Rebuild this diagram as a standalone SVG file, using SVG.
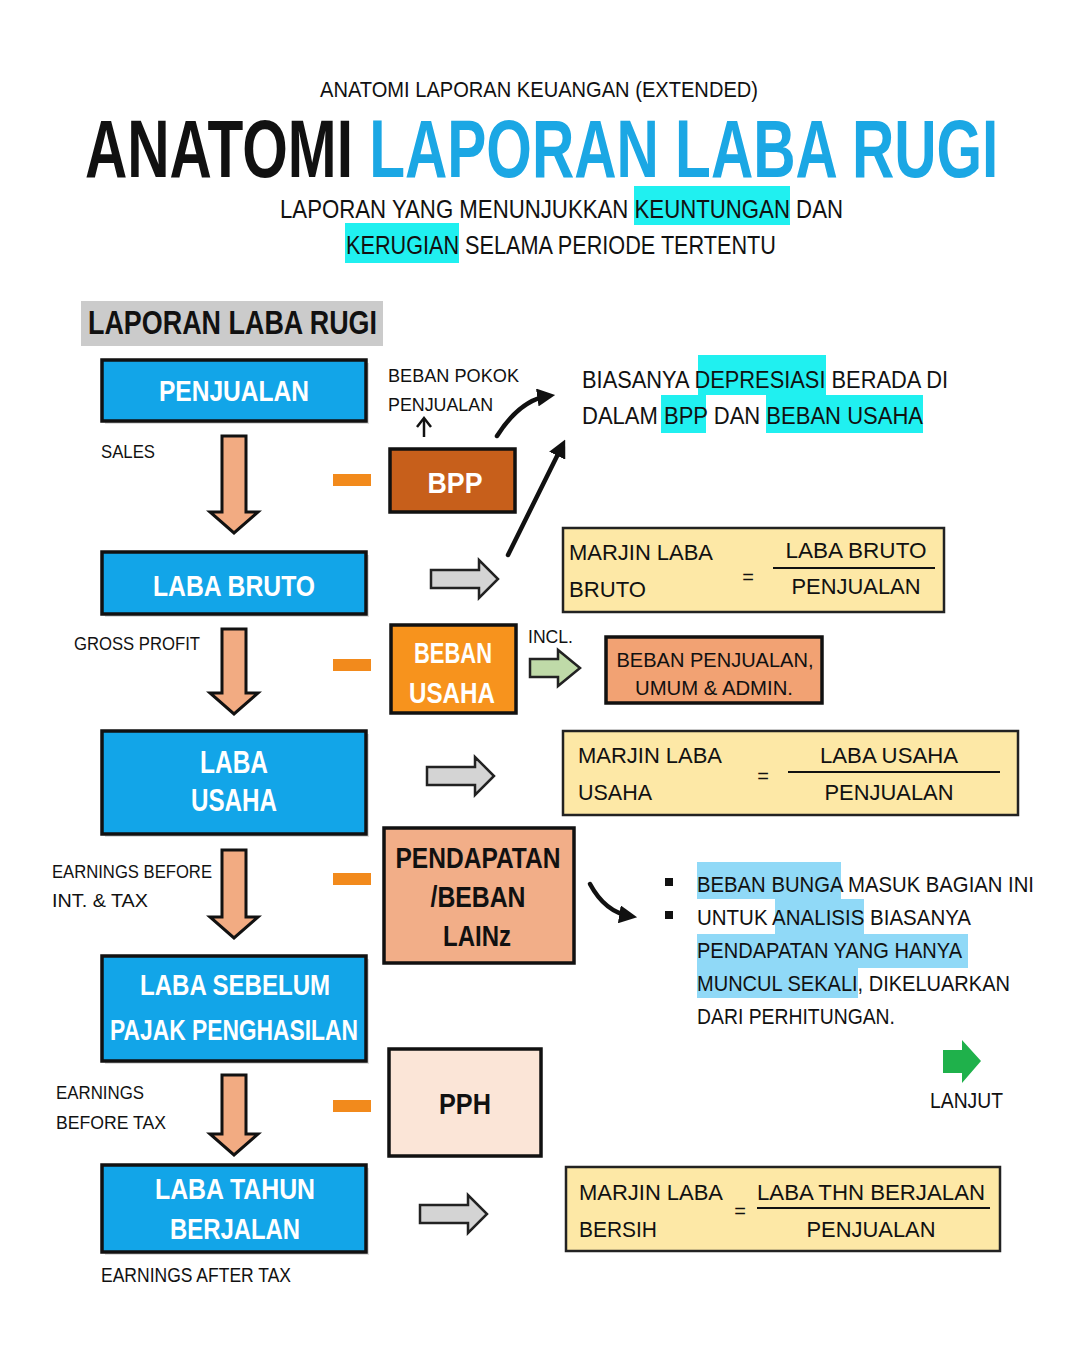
<svg xmlns="http://www.w3.org/2000/svg" width="1080" height="1349" viewBox="0 0 1080 1349">
<style>
text{font-family:"Liberation Sans","Noto Sans",Arial,sans-serif;fill:#111}
.b{font-weight:bold}
.w{fill:#fff;font-weight:bold}
.c{text-anchor:middle}
.blue{fill:#12a5e8;stroke:#111;stroke-width:3.5}
.yel{fill:#fde8a6;stroke:#222;stroke-width:2.5}
.down{fill:#f2ab82;stroke:#111;stroke-width:3;stroke-linejoin:miter}
.grey{fill:#d4d4d4;stroke:#222;stroke-width:2.5}
.minus{fill:#f28a1c}
.hl{fill:#20f0f0}
.hl2{fill:#90d9f7}
.shadow{fill:#bbb;opacity:.5}
.ln{stroke:#111;stroke-width:2}
.ar{fill:none;stroke:#111;stroke-width:4.5;stroke-linecap:round}
</style>
<defs>
<marker id="ah" viewBox="0 0 10 10" refX="6" refY="5" markerWidth="4" markerHeight="4" orient="auto"><path d="M0,0 L10,5 L0,10 z" fill="#111"/></marker>
<path id="rarr" d="M0,-9 H48 V-19 L67,0 L48,19 V9 H0 Z"/>
</defs>
<rect width="1080" height="1349" fill="#fff"/>

<g id="title">
<text x="320" y="97" font-size="22" textLength="438" lengthAdjust="spacingAndGlyphs">ANATOMI LAPORAN KEUANGAN (EXTENDED)</text>
<text transform="translate(85,177) scale(1,1.4)" x="0" y="0" font-size="58.6" class="b">ANATOMI <tspan style="fill:#1ba7e4">LAPORAN LABA RUGI</tspan></text>
<rect class="hl" x="634" y="186" width="156" height="39"/>
<rect class="hl" x="345" y="223" width="114" height="40"/>
<text x="280" y="218" font-size="25" textLength="563" lengthAdjust="spacingAndGlyphs">LAPORAN YANG MENUNJUKKAN KEUNTUNGAN DAN</text>
<text x="346" y="254" font-size="25" textLength="430" lengthAdjust="spacingAndGlyphs">KERUGIAN SELAMA PERIODE TERTENTU</text>
</g>

<g id="header">
<rect x="81" y="301" width="302" height="45" fill="#cbcbcb"/>
<text x="88" y="334" font-size="34" class="b" textLength="289" lengthAdjust="spacingAndGlyphs">LAPORAN LABA RUGI</text>
</g>

<g id="connectors">
<path class="down" d="M222,436 H246 V512 H258 L234,533 L210,512 H222 Z"/>
<path class="down" d="M222,629 H246 V693 H258 L234,714 L210,693 H222 Z"/>
<path class="down" d="M222,850 H246 V917 H258 L234,938 L210,917 H222 Z"/>
<path class="down" d="M222,1075 H246 V1134 H258 L234,1155 L210,1134 H222 Z"/>
<rect class="minus" x="333" y="474" width="38" height="12"/>
<rect class="minus" x="333" y="659" width="38" height="12"/>
<rect class="minus" x="333" y="873" width="38" height="12"/>
<rect class="minus" x="333" y="1100" width="38" height="12"/>
<use href="#rarr" x="431" y="579" class="grey"/>
<use href="#rarr" x="427" y="776" class="grey"/>
<use href="#rarr" x="420" y="1214" class="grey"/>
<path d="M530,659 H558 V650 L580,668 L558,686 V677 H530 Z" fill="#bfdaa8" stroke="#222" stroke-width="2.5"/>
<path d="M943,1050 H962 V1040 L981,1061 L962,1083 V1073 H943 Z" fill="#1fb14b"/>
<path d="M424,437 V420" stroke="#111" stroke-width="2.5" fill="none"/>
<path d="M417,427 L424,418 L431,427" stroke="#111" stroke-width="2.5" fill="none"/>
<path class="ar" d="M497,436 Q520,400 548,396" marker-end="url(#ah)"/>
<path class="ar" d="M508,555 L562,446" marker-end="url(#ah)"/>
<path class="ar" d="M590,884 Q605,912 630,916" marker-end="url(#ah)"/>
</g>

<g id="n-penjualan">
<rect class="shadow" x="105" y="363" width="264" height="61"/>
<rect class="blue" x="102" y="360" width="264" height="61"/>
<text class="w c" x="234" y="401" font-size="30" textLength="150" lengthAdjust="spacingAndGlyphs">PENJUALAN</text>
</g>
<text x="101" y="458" font-size="19" textLength="54" lengthAdjust="spacingAndGlyphs">SALES</text>

<g id="n-bpp">
<text x="388" y="382" font-size="19" textLength="131" lengthAdjust="spacingAndGlyphs">BEBAN POKOK</text>
<text x="388" y="411" font-size="19" textLength="105" lengthAdjust="spacingAndGlyphs">PENJUALAN</text>
<rect x="390" y="449" width="125" height="63" fill="#c75f1b" stroke="#111" stroke-width="3.5"/>
<text class="w c" x="455" y="493" font-size="30" textLength="55" lengthAdjust="spacingAndGlyphs">BPP</text>
</g>

<g id="n-note-depresiasi">
<rect class="hl" x="698" y="355" width="128" height="40"/>
<rect class="hl" x="661" y="395" width="45" height="38"/>
<rect class="hl" x="766" y="395" width="157" height="38"/>
<text x="582" y="388" font-size="23" textLength="366" lengthAdjust="spacingAndGlyphs">BIASANYA DEPRESIASI BERADA DI</text>
<text x="582" y="424" font-size="23" textLength="341" lengthAdjust="spacingAndGlyphs">DALAM BPP DAN BEBAN USAHA</text>
</g>

<g id="n-laba-bruto">
<rect class="shadow" x="105" y="555" width="264" height="62"/>
<rect class="blue" x="102" y="552" width="264" height="62"/>
<text class="w c" x="234" y="596" font-size="30" textLength="162" lengthAdjust="spacingAndGlyphs">LABA BRUTO</text>
</g>
<text x="74" y="650" font-size="19" textLength="126" lengthAdjust="spacingAndGlyphs">GROSS PROFIT</text>

<g id="n-margin-bruto">
<rect class="yel" x="563" y="528" width="381" height="84"/>
<text x="569" y="560" font-size="22" textLength="144" lengthAdjust="spacingAndGlyphs">MARJIN LABA</text>
<text x="569" y="597" font-size="22" textLength="77" lengthAdjust="spacingAndGlyphs">BRUTO</text>
<text class="c" x="748" y="584" font-size="20">=</text>
<text class="c" x="856" y="558" font-size="22" textLength="141" lengthAdjust="spacingAndGlyphs">LABA BRUTO</text>
<line class="ln" x1="773" y1="568" x2="935" y2="568"/>
<text class="c" x="856" y="594" font-size="22" textLength="129" lengthAdjust="spacingAndGlyphs">PENJUALAN</text>
</g>

<g id="n-beban-usaha">
<rect x="391" y="625" width="125" height="88" fill="#f7931d" stroke="#111" stroke-width="3.5"/>
<text class="w c" x="453" y="663" font-size="30" textLength="78" lengthAdjust="spacingAndGlyphs">BEBAN</text>
<text class="w c" x="452" y="703" font-size="30" textLength="86" lengthAdjust="spacingAndGlyphs">USAHA</text>
<text x="528" y="643" font-size="18" textLength="45" lengthAdjust="spacingAndGlyphs">INCL.</text>
</g>

<g id="n-beban-penjualan">
<rect x="606" y="637" width="216" height="66" fill="#f2a273" stroke="#111" stroke-width="3.5"/>
<text class="c" x="715" y="667" font-size="21" textLength="197" lengthAdjust="spacingAndGlyphs">BEBAN PENJUALAN,</text>
<text class="c" x="714" y="695" font-size="21" textLength="158" lengthAdjust="spacingAndGlyphs">UMUM &amp; ADMIN.</text>
</g>

<g id="n-laba-usaha">
<rect class="shadow" x="105" y="734" width="264" height="103"/>
<rect class="blue" x="102" y="731" width="264" height="103"/>
<text class="w c" x="234" y="773" font-size="32" textLength="68" lengthAdjust="spacingAndGlyphs">LABA</text>
<text class="w c" x="234" y="811" font-size="32" textLength="86" lengthAdjust="spacingAndGlyphs">USAHA</text>
</g>

<g id="n-margin-usaha">
<rect class="yel" x="563" y="731" width="455" height="84"/>
<text x="578" y="763" font-size="22" textLength="144" lengthAdjust="spacingAndGlyphs">MARJIN LABA</text>
<text x="578" y="800" font-size="22" textLength="74" lengthAdjust="spacingAndGlyphs">USAHA</text>
<text class="c" x="763" y="783" font-size="20">=</text>
<text class="c" x="889" y="763" font-size="22" textLength="138" lengthAdjust="spacingAndGlyphs">LABA USAHA</text>
<line class="ln" x1="788" y1="772" x2="1000" y2="772"/>
<text class="c" x="889" y="800" font-size="22" textLength="129" lengthAdjust="spacingAndGlyphs">PENJUALAN</text>
</g>

<text x="52" y="878" font-size="19" textLength="160" lengthAdjust="spacingAndGlyphs">EARNINGS BEFORE</text>
<text x="52" y="907" font-size="19" textLength="96" lengthAdjust="spacingAndGlyphs">INT. &amp; TAX</text>

<g id="n-pendapatan-lain">
<rect x="384" y="828" width="190" height="135" fill="#f2ae88" stroke="#111" stroke-width="3.5"/>
<text class="b c" x="478" y="868" font-size="30" textLength="165" lengthAdjust="spacingAndGlyphs">PENDAPATAN</text>
<text class="b c" x="478" y="907" font-size="30" textLength="95" lengthAdjust="spacingAndGlyphs">/BEBAN</text>
<text class="b c" x="477" y="946" font-size="30" textLength="68" lengthAdjust="spacingAndGlyphs">LAINz</text>
</g>

<g id="n-note-lain">
<rect class="hl2" x="697" y="862" width="144" height="37"/>
<rect class="hl2" x="775" y="899" width="89" height="35"/>
<rect class="hl2" x="697" y="934" width="271" height="34"/>
<rect class="hl2" x="697" y="968" width="161" height="30"/>
<rect x="665" y="878" width="8" height="8" fill="#111"/>
<rect x="665" y="911" width="8" height="8" fill="#111"/>
<text x="697" y="892" font-size="22" textLength="337" lengthAdjust="spacingAndGlyphs">BEBAN BUNGA MASUK BAGIAN INI</text>
<text x="697" y="925" font-size="22" textLength="274" lengthAdjust="spacingAndGlyphs">UNTUK ANALISIS BIASANYA</text>
<text x="697" y="958" font-size="22" textLength="265" lengthAdjust="spacingAndGlyphs">PENDAPATAN YANG HANYA</text>
<text x="697" y="991" font-size="22" textLength="313" lengthAdjust="spacingAndGlyphs">MUNCUL SEKALI, DIKELUARKAN</text>
<text x="697" y="1024" font-size="22" textLength="198" lengthAdjust="spacingAndGlyphs">DARI PERHITUNGAN.</text>
</g>

<g id="n-laba-sebelum-pajak">
<rect class="shadow" x="105" y="959" width="264" height="105"/>
<rect class="blue" x="102" y="956" width="264" height="105"/>
<text class="w c" x="235" y="995" font-size="30" textLength="190" lengthAdjust="spacingAndGlyphs">LABA SEBELUM</text>
<text class="w c" x="234" y="1040" font-size="30" textLength="248" lengthAdjust="spacingAndGlyphs">PAJAK PENGHASILAN</text>
</g>

<text x="930" y="1108" font-size="22" textLength="73" lengthAdjust="spacingAndGlyphs">LANJUT</text>

<text x="56" y="1099" font-size="19" textLength="88" lengthAdjust="spacingAndGlyphs">EARNINGS</text>
<text x="56" y="1129" font-size="19" textLength="110" lengthAdjust="spacingAndGlyphs">BEFORE TAX</text>

<g id="n-pph">
<rect x="389" y="1049" width="152" height="107" fill="#fbe5d7" stroke="#111" stroke-width="3.5"/>
<text class="b c" x="465" y="1114" font-size="30" textLength="52" lengthAdjust="spacingAndGlyphs">PPH</text>
</g>

<g id="n-laba-tahun-berjalan">
<rect class="shadow" x="105" y="1168" width="264" height="87"/>
<rect class="blue" x="102" y="1165" width="264" height="87"/>
<text class="w c" x="235" y="1199" font-size="30" textLength="160" lengthAdjust="spacingAndGlyphs">LABA TAHUN</text>
<text class="w c" x="235" y="1239" font-size="30" textLength="130" lengthAdjust="spacingAndGlyphs">BERJALAN</text>
</g>
<text x="101" y="1282" font-size="20" textLength="190" lengthAdjust="spacingAndGlyphs">EARNINGS AFTER TAX</text>

<g id="n-margin-bersih">
<rect class="yel" x="566" y="1167" width="434" height="84"/>
<text x="579" y="1200" font-size="22" textLength="144" lengthAdjust="spacingAndGlyphs">MARJIN LABA</text>
<text x="579" y="1237" font-size="22" textLength="78" lengthAdjust="spacingAndGlyphs">BERSIH</text>
<text class="c" x="740" y="1218" font-size="20">=</text>
<text class="c" x="871" y="1200" font-size="22" textLength="228" lengthAdjust="spacingAndGlyphs">LABA THN BERJALAN</text>
<line class="ln" x1="757" y1="1208" x2="990" y2="1208"/>
<text class="c" x="871" y="1237" font-size="22" textLength="129" lengthAdjust="spacingAndGlyphs">PENJUALAN</text>
</g>
</svg>
